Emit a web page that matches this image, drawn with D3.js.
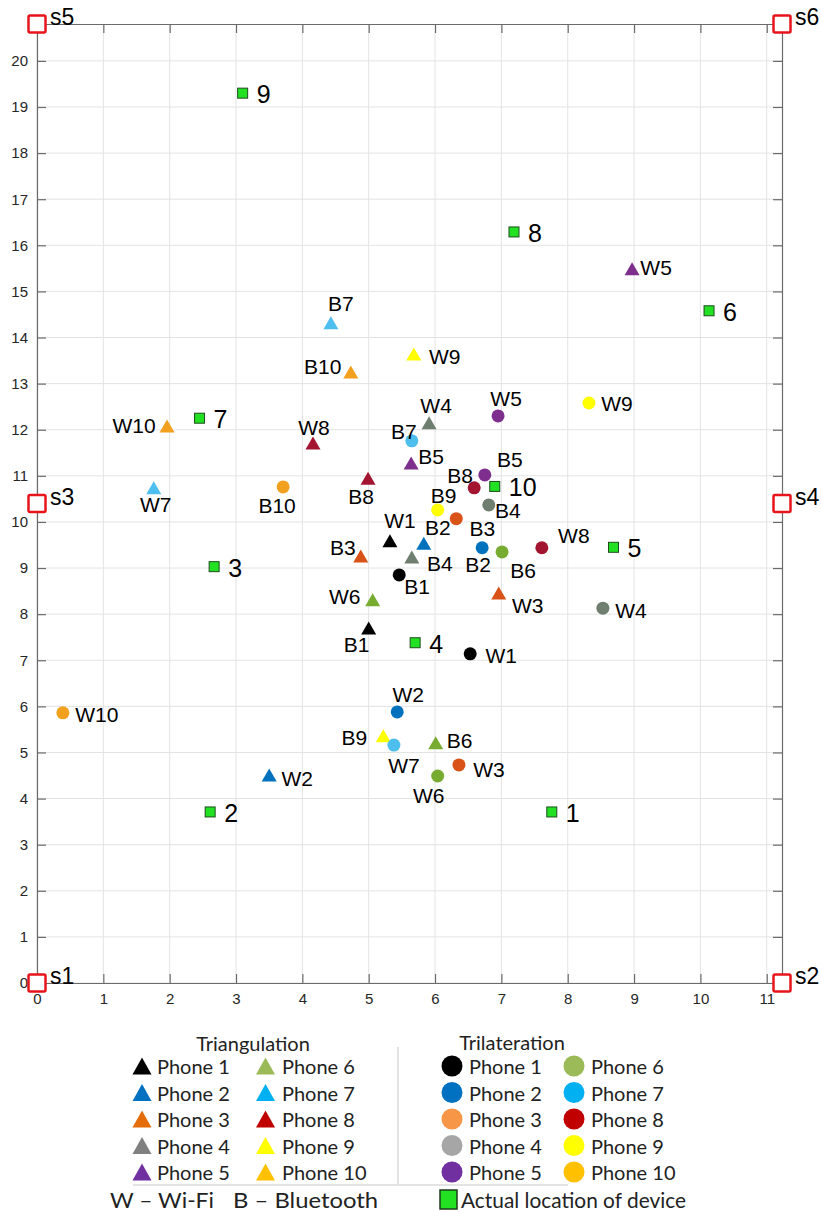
<!DOCTYPE html>
<html>
<head>
<meta charset="utf-8">
<script src="https://cdn.jsdelivr.net/npm/d3@7"></script>
<style>
  html, body { margin: 0; padding: 0; background: #fff; }
  svg { display: block; }
  .mark-label { font-family: "Liberation Sans", Arial, sans-serif; font-size: 21px; fill: #000; }
  .dev-label { font-family: "Liberation Sans", Arial, sans-serif; font-size: 25px; fill: #000; }
  .sensor-label { font-family: "Liberation Sans", Arial, sans-serif; font-size: 23px; fill: #000; }
  .legend-text { font-family: Lato, "Open Sans", sans-serif; font-size: 20px; fill: #222; }
</style>
</head>
<body>
<svg id="chart" width="821" height="1212"></svg>
<script>
// ---- Data -----------------------------------------------------------
const phones = ["Phone 1", "Phone 2", "Phone 3", "Phone 4", "Phone 5",
                "Phone 6", "Phone 7", "Phone 8", "Phone 9", "Phone 10"];

// Triangulation estimates (metres)
const triWifiX = [5.32, 3.50, 6.96, 5.91, 8.97, 5.06, 1.76, 4.16, 5.68, 1.96];
const triWifiY = [9.59, 4.51, 8.46, 12.15, 15.49, 8.31, 10.74, 11.71, 13.64, 12.08];
const triBtX   = [5.00, 5.83, 4.88, 5.65, 5.64, 6.01, 4.43, 4.99, 5.22, 4.73];
const triBtY   = [7.70, 9.54, 9.26, 9.24, 11.28, 5.21, 14.32, 10.95, 5.36, 13.25];

// Trilateration estimates (metres)
const trilWifiX = [6.53, 5.43, 6.36, 8.53, 6.95, 6.04, 5.38, 7.61, 8.32, 0.39];
const trilWifiY = [7.14, 5.88, 4.73, 8.13, 12.30, 4.49, 5.16, 9.44, 12.58, 5.86];
const trilBtX   = [5.46, 6.71, 6.32, 6.81, 6.75, 7.01, 5.65, 6.59, 6.04, 3.71];
const trilBtY   = [8.85, 9.44, 10.07, 10.37, 11.02, 9.35, 11.76, 10.74, 10.26, 10.76];

// Actual device locations
const deviceIds = ["1", "2", "3", "4", "5", "6", "7", "8", "9", "10"];
const deviceX = [7.76, 2.61, 2.67, 5.70, 8.69, 10.13, 2.45, 7.19, 3.10, 6.90];
const deviceY = [3.71, 3.71, 9.03, 7.38, 9.45, 14.58, 12.25, 16.29, 19.30, 10.77];

// Sensors at the room corners and mid-walls
const sensorNames = ["s1", "s2", "s3", "s4", "s5", "s6"];
const sensorX = [0, 11.23, 0, 11.23, 0, 11.23];
const sensorY = [0, 0, 10.4, 10.4, 20.8, 20.8];

const xTicks = d3.range(0, 12);
const yTicks = d3.range(0, 21);

// ---- Styling ----------------------------------------------------------
const plotColors = ["#000000", "#0072BD", "#D95319", "#6F7F6F", "#7E2F8E",
                    "#77AC30", "#4DBEEE", "#A2142F", "#FFFF00", "#F2A11F"];
const legendTriColors = ["#000000", "#0070C0", "#E46C0A", "#808080", "#7030A0",
                         "#9BBB59", "#00B0F0", "#C00000", "#FFFF00", "#FFC000"];
const legendCircColors = ["#000000", "#0070C0", "#F79646", "#A6A6A6", "#7030A0",
                          "#9BBB59", "#00B0F0", "#C00000", "#FFFF00", "#FFC000"];

// Label placement (pixel offsets of the label centre from its marker)
const labelOffsets = {
  triW:  [[10,-20],[28,3],[29,13],[7,-17],[24,-1],[-28,-3],[2,17],[1,-16],[31,2],[-33,-1]],
  triB:  [[-12,17],[14,-16],[-18,-9],[28,7],[20,-6],[24,-2],[10,-19],[-7,18],[-29,2],[-28,-6]],
  trilW: [[31,2],[11,-17],[30,5],[28,2],[8,-17],[-9,20],[10,20],[32,-12],[28,1],[34,2]],
  trilB: [[18,12],[-4,17],[26,10],[19,6],[25,-15],[21,19],[-8,-9],[-14,-12],[6,-14],[-6,19]]
};

// ---- Scales -----------------------------------------------------------
const svg = d3.select("#chart");
const x = d3.scaleLinear().domain([0, 11.23]).range([37, 782]);
const y = d3.scaleLinear().domain([0, 20.8]).range([983, 24]);
const [L, R] = x.range();
const [B, T] = y.range();

// Grid
const grid = svg.append("g");
grid.selectAll("line.gx").data(xTicks).join("line")
  .attr("x1", d => x(d)).attr("x2", d => x(d)).attr("y1", T).attr("y2", B)
  .attr("stroke", "#e3e3e3").attr("stroke-width", 1);
grid.selectAll("line.gy").data(yTicks).join("line")
  .attr("x1", L).attr("x2", R).attr("y1", d => y(d)).attr("y2", d => y(d))
  .attr("stroke", "#e3e3e3").attr("stroke-width", 1);

// Axes (inward ticks on all four sides)
function styleAxis(g, showLabels) {
  g.attr("font-family", "'Liberation Sans', Arial, sans-serif").attr("font-size", 15);
  g.select(".domain").attr("stroke", "#6b6b6b").attr("stroke-width", 1.2);
  g.selectAll(".tick line").attr("stroke", "#6b6b6b").attr("stroke-width", 1.2);
  g.selectAll(".tick text").attr("fill", "#262626");
  if (!showLabels) g.selectAll(".tick text").remove();
}
svg.append("g").attr("transform", `translate(0,${B})`)
  .call(d3.axisBottom(x).tickValues(xTicks).tickSize(-9).tickSizeOuter(0).tickPadding(10))
  .call(g => styleAxis(g, true));
svg.append("g").attr("transform", `translate(0,${T})`)
  .call(d3.axisTop(x).tickValues(xTicks).tickSize(-9).tickSizeOuter(0))
  .call(g => styleAxis(g, false));
svg.append("g").attr("transform", `translate(${L},0)`)
  .call(d3.axisLeft(y).tickValues(yTicks).tickSize(-9).tickSizeOuter(0).tickPadding(9))
  .call(g => styleAxis(g, true));
svg.append("g").attr("transform", `translate(${R},0)`)
  .call(d3.axisRight(y).tickValues(yTicks).tickSize(-9).tickSizeOuter(0))
  .call(g => styleAxis(g, false));

// ---- Markers ----------------------------------------------------------
const triPath = (cx, cy, w, h) =>
  `M${cx - w / 2},${cy + h / 2}L${cx},${cy - h / 2}L${cx + w / 2},${cy + h / 2}Z`;

function drawSet(xs, ys, prefix, shape, offsets) {
  const rows = xs.map((v, i) => ({ x: v, y: ys[i], i, label: prefix + (i + 1), off: offsets[i] }));
  const g = svg.append("g");
  if (shape === "tri") {
    g.selectAll("path").data(rows).join("path")
      .attr("d", d => triPath(x(d.x), y(d.y), 15, 13))
      .attr("fill", d => plotColors[d.i]);
  } else {
    g.selectAll("circle").data(rows).join("circle")
      .attr("cx", d => x(d.x)).attr("cy", d => y(d.y)).attr("r", 6.5)
      .attr("fill", d => plotColors[d.i]);
  }
  g.selectAll("text").data(rows).join("text")
    .attr("class", "mark-label")
    .attr("x", d => x(d.x) + d.off[0]).attr("y", d => y(d.y) + d.off[1])
    .attr("text-anchor", "middle").attr("dominant-baseline", "central")
    .text(d => d.label);
}
drawSet(triWifiX, triWifiY, "W", "tri", labelOffsets.triW);
drawSet(triBtX, triBtY, "B", "tri", labelOffsets.triB);
drawSet(trilWifiX, trilWifiY, "W", "circ", labelOffsets.trilW);
drawSet(trilBtX, trilBtY, "B", "circ", labelOffsets.trilB);

// Actual device locations
const devRows = deviceIds.map((id, i) => ({ id, x: deviceX[i], y: deviceY[i] }));
const devG = svg.append("g");
devG.selectAll("rect").data(devRows).join("rect")
  .attr("x", d => x(d.x) - 5).attr("y", d => y(d.y) - 5)
  .attr("width", 10).attr("height", 10)
  .attr("fill", "#22E022").attr("stroke", "#1d4d1d").attr("stroke-width", 1);
devG.selectAll("text").data(devRows).join("text")
  .attr("class", "dev-label")
  .attr("x", d => x(d.x) + 14).attr("y", d => y(d.y) + 1)
  .attr("dominant-baseline", "central")
  .text(d => d.id);

// Sensors
const senRows = sensorNames.map((n, i) => ({ n, x: sensorX[i], y: sensorY[i] }));
const senG = svg.append("g");
senG.selectAll("rect").data(senRows).join("rect")
  .attr("x", d => x(d.x) - 8.5).attr("y", d => y(d.y) - 8.5)
  .attr("width", 17).attr("height", 17).attr("rx", 1.5)
  .attr("fill", "#fff").attr("stroke", "#E8141B").attr("stroke-width", 2.5);
senG.selectAll("text").data(senRows).join("text")
  .attr("class", "sensor-label")
  .attr("x", d => x(d.x) + 13).attr("y", d => y(d.y) - 7)
  .attr("dominant-baseline", "central")
  .text(d => d.n);

// ---- Legend -----------------------------------------------------------
const lg = svg.append("g");
const rowY = i => 1066 + (i % 5) * 26.5;

lg.append("text").attr("class", "legend-text").attr("x", 253).attr("y", 1043)
  .attr("text-anchor", "middle").attr("dominant-baseline", "central").text("Triangulation");
lg.append("text").attr("class", "legend-text").attr("x", 512).attr("y", 1042)
  .attr("text-anchor", "middle").attr("dominant-baseline", "central").text("Trilateration");

const triCols = [{ mx: 142, tx: 157 }, { mx: 265.5, tx: 282 }];
const circCols = [{ mx: 452, tx: 469 }, { mx: 574, tx: 591 }];

lg.selectAll("path.lt").data(phones).join("path")
  .attr("d", (p, i) => triPath(triCols[Math.floor(i / 5)].mx, rowY(i), 19, 17))
  .attr("fill", (p, i) => legendTriColors[i]);
lg.selectAll("text.lt").data(phones).join("text")
  .attr("class", "legend-text lt")
  .attr("x", (p, i) => triCols[Math.floor(i / 5)].tx).attr("y", (p, i) => rowY(i))
  .attr("dominant-baseline", "central").text(p => p);

lg.selectAll("circle.lc").data(phones).join("circle")
  .attr("cx", (p, i) => circCols[Math.floor(i / 5)].mx).attr("cy", (p, i) => rowY(i))
  .attr("r", 10.5).attr("fill", (p, i) => legendCircColors[i]);
lg.selectAll("text.lc").data(phones).join("text")
  .attr("class", "legend-text lc")
  .attr("x", (p, i) => circCols[Math.floor(i / 5)].tx).attr("y", (p, i) => rowY(i))
  .attr("dominant-baseline", "central").text(p => p);

// Separators
lg.append("line").attr("x1", 398).attr("x2", 398).attr("y1", 1047).attr("y2", 1184)
  .attr("stroke", "#c8c8c8").attr("stroke-width", 1);
lg.append("line").attr("x1", 133).attr("x2", 568).attr("y1", 1185).attr("y2", 1185)
  .attr("stroke", "#c8c8c8").attr("stroke-width", 1);

// Bottom row: abbreviations and device marker
const bottomRow = lg.append("g").style("font-size", "21px");
bottomRow.append("text").attr("class", "legend-text").style("font-size", "21px")
  .attr("x", 110).attr("y", 1199).attr("dominant-baseline", "central")
  .attr("textLength", 104).attr("lengthAdjust", "spacingAndGlyphs").text("W – Wi-Fi");
bottomRow.append("text").attr("class", "legend-text").style("font-size", "21px")
  .attr("x", 233).attr("y", 1199).attr("dominant-baseline", "central")
  .attr("textLength", 145).attr("lengthAdjust", "spacingAndGlyphs").text("B – Bluetooth");
lg.append("rect").attr("x", 440).attr("y", 1190).attr("width", 17).attr("height", 19)
  .attr("fill", "#22E022").attr("stroke", "#1d3d1d").attr("stroke-width", 1.5);
bottomRow.append("text").attr("class", "legend-text").style("font-size", "21px")
  .attr("x", 461).attr("y", 1199).attr("dominant-baseline", "central")
  .attr("textLength", 225).attr("lengthAdjust", "spacingAndGlyphs").text("Actual location of device");
</script>
</body>
</html>
